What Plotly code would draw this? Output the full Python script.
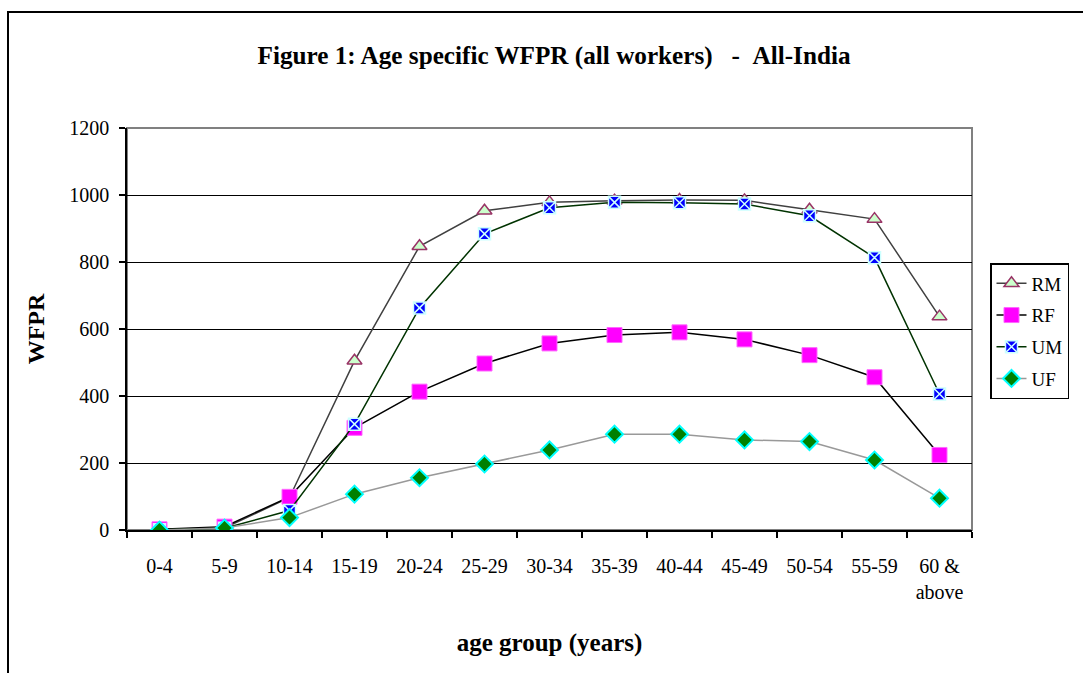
import plotly.graph_objects as go

categories = ["0-4", "5-9", "10-14", "15-19", "20-24", "25-29", "30-34",
              "35-39", "40-44", "45-49", "50-54", "55-59", "60 &<br>above"]
rm = [2, 6, 97, 505, 847, 953, 978, 983, 985, 984, 956, 928, 637]
rf = [2, 10, 99, 305, 413, 497, 557, 582, 590, 569, 522, 456, 224]
um = [1, 5, 58, 316, 663, 884, 962, 978, 977, 973, 938, 813, 406]
uf = [0, 6, 37, 107, 156, 197, 239, 286, 286, 269, 264, 209, 95]
y_ticks = [0, 200, 400, 600, 800, 1000, 1200]

FONT = "Liberation Serif, Times New Roman, serif"
NB = "\u00a0"

fig = go.Figure()
fig.add_trace(go.Scatter(
    x=categories, y=rm, name="RM", mode="lines+markers", legendgroup="a",
    line=dict(color="#404040", width=1.5),
    marker=dict(symbol="triangle-up", size=13, color="#CCFFCC",
                line=dict(color="#993366", width=1.5))))
fig.add_trace(go.Scatter(
    x=categories, y=rf, name="RF", mode="lines+markers", legendgroup="b",
    line=dict(color="#000000", width=1.5),
    marker=dict(symbol="square", size=15, color="#FF00FF",
                line=dict(color="#FF66FF", width=1))))
fig.add_trace(go.Scatter(
    x=categories, y=um, name="UM", mode="lines+markers", legendgroup="c",
    line=dict(color="#003300", width=1.5),
    marker=dict(symbol="square-x", size=12, color="#0000FF",
                line=dict(color="#CCFFFF", width=1.5))))
fig.add_trace(go.Scatter(
    x=categories, y=uf, name="UF", mode="lines+markers", legendgroup="d",
    line=dict(color="#999999", width=1.5),
    marker=dict(symbol="diamond", size=13, color="#008000",
                line=dict(color="#00FFFF", width=2))))

title_text = ("<b>Figure 1: Age specific WFPR (all workers)" + NB * 3 + "-" +
              NB * 2 + "All-India</b>")

fig.update_layout(
    width=1083, height=673,
    margin=dict(l=127, r=111, t=128, b=143, autoexpand=False),
    paper_bgcolor="white", plot_bgcolor="white",
    font=dict(family=FONT, size=20, color="black"),
    title=dict(text=title_text, x=554 / 1083, xanchor="center",
               y=1 - 55 / 673, yanchor="middle",
               font=dict(family=FONT, size=25.2, color="black")),
    showlegend=True,
    legend=dict(x=(990 - 127) / 845, xanchor="left",
                y=(530 - 263) / 402, yanchor="top",
                bgcolor="white", bordercolor="black", borderwidth=1.5,
                font=dict(family=FONT, size=19, color="black"),
                tracegroupgap=4, traceorder="grouped"),
    xaxis=dict(type="category", range=[-0.5, 12.5],
               tickson="boundaries", ticks="outside",
               ticklen=6, tickcolor="black", tickwidth=1.5,
               showline=True, linecolor="black", linewidth=1.5,
               showgrid=False, zeroline=False, fixedrange=True,
               ticklabelstandoff=17,
               tickfont=dict(family=FONT, size=20),
               title=dict(text="<b>age group (years)</b>", standoff=32,
                          font=dict(family=FONT, size=25))),
    yaxis=dict(range=[0, 1200], tickvals=y_ticks, ticks="outside",
               ticklen=6, tickcolor="black", tickwidth=1.5,
               showline=True, linecolor="black", linewidth=1.5,
               showgrid=True, gridcolor="black", gridwidth=1.2,
               zeroline=False, fixedrange=True,
               ticklabelstandoff=6,
               tickfont=dict(family=FONT, size=20),
               title=dict(text="<b>WFPR</b>", standoff=18,
                          font=dict(family=FONT, size=24))),
    shapes=[
        dict(type="rect", xref="paper", yref="paper", x0=0, x1=1, y0=0, y1=1,
             line=dict(color="#808080", width=2), layer="between"),
        dict(type="rect", xref="paper", yref="paper", x0=(8 - 127) / 845,
             x1=1.3, y0=-0.5, y1=(530 - 12) / 402,
             line=dict(color="black", width=2), layer="below"),
    ],
)

fig.write_html("out.html",
               config={"displayModeBar": False},
               post_script="document.body.style.margin='0';"
                           "document.body.style.padding='0';")
